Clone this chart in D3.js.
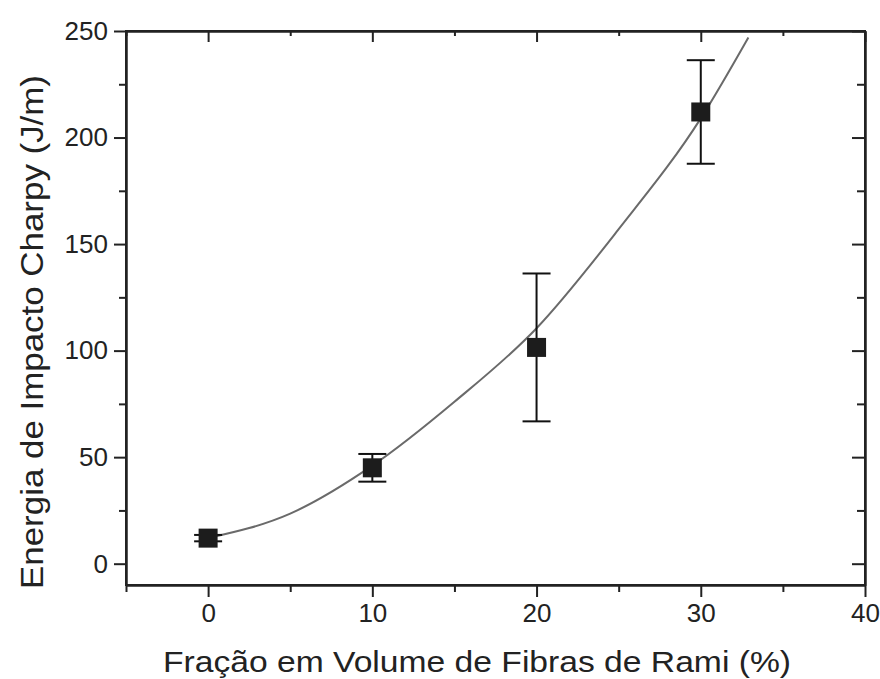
<!DOCTYPE html>
<html>
<head>
<meta charset="utf-8">
<script src="https://cdn.jsdelivr.net/npm/d3@7"></script>
<style>
  body { margin: 0; background: #fff; }
  text { font-family: "Liberation Sans", Arial, sans-serif; fill: #222; }
  .axis path, .axis line { stroke: #222; stroke-width: 2px; }
</style>
</head>
<body>
<div id="chart"></div>
<script>
// data
const fracao = [0, 10, 20, 30];
const energia = [12, 45, 101.5, 212];
const erro = [1.5, 6.5, 34.7, 24.3];

// fitted curve as drawn in the figure
const fitX = [0, 5, 10, 15, 20, 25, 30, 32.9];
const fitY = [12, 23.5, 46, 76, 110.5, 157, 209, 247];

const xTicks = [0, 10, 20, 30, 40];
const yTicks = [0, 50, 100, 150, 200, 250];

const width = 880;
const height = 679;
const mLeft = 126, mRight = 865, mTop = 31, mBottom = 585;

const svg = d3.select('#chart').append('svg')
  .attr('width', width)
  .attr('height', height);

const x = d3.scaleLinear().domain([-5, 40]).range([mLeft, mRight]);
const y = d3.scaleLinear().domain([-10, 250]).range([mBottom, mTop]);

const xMinor = d3.range(-5, 41, 5).filter(v => v % 10 !== 0);
const yMinor = d3.range(0, 251, 25).filter(v => v % 50 !== 0);

// axes: bottom/left outward with labels, top/right inward
const drawAxis = (axis, tr, labels) => {
  const g = svg.append('g').attr('class', 'axis').attr('transform', tr).call(axis);
  if (!labels) g.selectAll('text').remove();
  return g;
};

drawAxis(d3.axisBottom(x).tickValues(xTicks).tickSize(12).tickPadding(7).tickSizeOuter(0),
  `translate(0,${mBottom})`, true);
drawAxis(d3.axisBottom(x).tickValues(xMinor).tickSize(7).tickFormat('').tickSizeOuter(0),
  `translate(0,${mBottom})`, false);
drawAxis(d3.axisLeft(y).tickValues(yTicks).tickSize(12).tickPadding(6).tickSizeOuter(0),
  `translate(${mLeft},0)`, true);
drawAxis(d3.axisLeft(y).tickValues(yMinor).tickSize(7).tickFormat('').tickSizeOuter(0),
  `translate(${mLeft},0)`, false);

drawAxis(d3.axisBottom(x).tickValues(xTicks).tickSize(11).tickFormat('').tickSizeOuter(0),
  `translate(0,${mTop})`, false);
drawAxis(d3.axisBottom(x).tickValues(xMinor).tickSize(5).tickFormat('').tickSizeOuter(0),
  `translate(0,${mTop})`, false);
drawAxis(d3.axisLeft(y).tickValues(yTicks).tickSize(13).tickFormat('').tickSizeOuter(0),
  `translate(${mRight},0)`, false);
drawAxis(d3.axisLeft(y).tickValues(yMinor).tickSize(8).tickFormat('').tickSizeOuter(0),
  `translate(${mRight},0)`, false);

svg.selectAll('.axis text').attr('font-size', 26).attr('fill', '#222');

// frame
svg.append('rect')
  .attr('x', mLeft).attr('y', mTop)
  .attr('width', mRight - mLeft).attr('height', mBottom - mTop)
  .attr('fill', 'none').attr('stroke', '#222').attr('stroke-width', 2);

// fit curve
const line = d3.line()
  .x((d, i) => x(fitX[i]))
  .y(d => y(d))
  .curve(d3.curveMonotoneX);

svg.append('path')
  .attr('d', line(fitY))
  .attr('fill', 'none')
  .attr('stroke', '#6a6a6a')
  .attr('stroke-width', 2);

// error bars
const pts = fracao.map((f, i) => ({ f, e: energia[i], s: erro[i] }));
const eb = svg.append('g').attr('stroke', '#111').attr('stroke-width', 2);
eb.selectAll('.v').data(pts).enter().append('line')
  .attr('x1', d => x(d.f)).attr('x2', d => x(d.f))
  .attr('y1', d => y(d.e - d.s)).attr('y2', d => y(d.e + d.s));
eb.selectAll('.hi').data(pts).enter().append('line')
  .attr('x1', d => x(d.f) - 14).attr('x2', d => x(d.f) + 14)
  .attr('y1', d => y(d.e + d.s)).attr('y2', d => y(d.e + d.s));
eb.selectAll('.lo').data(pts).enter().append('line')
  .attr('x1', d => x(d.f) - 14).attr('x2', d => x(d.f) + 14)
  .attr('y1', d => y(d.e - d.s)).attr('y2', d => y(d.e - d.s));

// squares
svg.append('g').selectAll('rect').data(pts).enter().append('rect')
  .attr('x', d => x(d.f) - 9.5).attr('y', d => y(d.e) - 9.5)
  .attr('width', 19).attr('height', 19)
  .attr('fill', '#1c1c1c');

// titles
svg.append('text')
  .attr('x', 477)
  .attr('y', 672)
  .attr('text-anchor', 'middle')
  .attr('font-size', 30)
  .attr('textLength', 628)
  .attr('lengthAdjust', 'spacingAndGlyphs')
  .text('Fração em Volume de Fibras de Rami (%)');

svg.append('text')
  .attr('transform', `translate(43,${332}) rotate(-90)`)
  .attr('text-anchor', 'middle')
  .attr('font-size', 31)
  .attr('textLength', 514)
  .attr('lengthAdjust', 'spacingAndGlyphs')
  .text('Energia de Impacto Charpy (J/m)');
</script>
</body>
</html>
